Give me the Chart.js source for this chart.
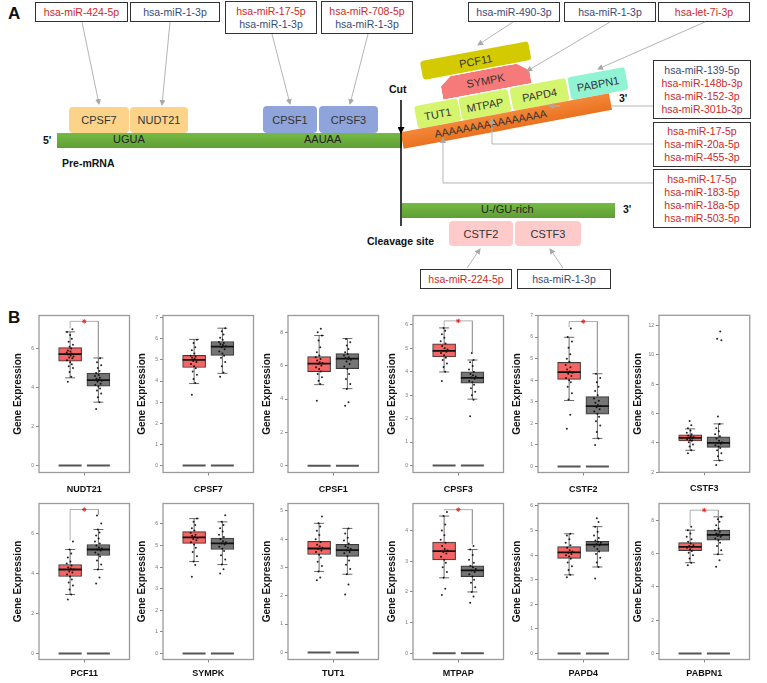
<!DOCTYPE html>
<html lang="en">
<head>
<meta charset="UTF-8" />
<title>Polyadenylation factors and miRNAs</title>
<script src="https://cdn.jsdelivr.net/npm/chart.js"></script>
<style>
  body { margin: 0; background: #fff; }
  #fig { position: relative; width: 767px; height: 683px; overflow: hidden; font-family: 'Liberation Sans', Arial, sans-serif; }
  .lbl { position: absolute; font-weight: bold; font-size: 17px; color: #111; }
  .mi { position: absolute; box-sizing: border-box; border: 1.5px solid #333; background: #fff;
        display: flex; flex-direction: column; justify-content: center; align-items: center;
        font-size: 10.5px; line-height: 13px; white-space: nowrap; }
  .r { color: #cc2a2a; }
  .b { color: #3a4a7a; }
  .pr { position: absolute; box-sizing: border-box; display: flex; justify-content: center; align-items: center;
        font-size: 11px; color: #333; border-radius: 4px; white-space: nowrap; }
  .t { position: absolute; font-size: 11px; color: #222; white-space: nowrap; }
  .bt { position: absolute; font-size: 10.5px; font-weight: bold; color: #111; white-space: nowrap; }
  .bar { position: absolute; background: linear-gradient(#76ba45, #5e9f34); }
  #tail { position: absolute; left: 402px; top: 140px; width: 0; height: 0; transform: rotate(-10.6deg); transform-origin: 0 0; }
  #tail div { position: absolute; }
  canvas { position: absolute; }
  svg { position: absolute; left: 0; top: 0; }
</style>
</head>
<body>
<div id="fig">
  <div class="lbl" style="left:8px;top:4px">A</div>
  <div class="lbl" style="left:8px;top:308px">B</div>

  <!-- miRNA boxes, top row -->
  <div class="mi" style="left:35px;top:2px;width:93px;height:20px"><span class="r">hsa-miR-424-5p</span></div>
  <div class="mi" style="left:130px;top:2px;width:90px;height:20px"><span class="b">hsa-miR-1-3p</span></div>
  <div class="mi" style="left:225px;top:1px;width:92px;height:33px"><span class="r">hsa-miR-17-5p</span><span class="b">hsa-miR-1-3p</span></div>
  <div class="mi" style="left:321px;top:1px;width:92px;height:33px"><span class="r">hsa-miR-708-5p</span><span class="b">hsa-miR-1-3p</span></div>
  <div class="mi" style="left:468px;top:2px;width:92px;height:20px"><span class="b">hsa-miR-490-3p</span></div>
  <div class="mi" style="left:564px;top:2px;width:92px;height:20px"><span class="b">hsa-miR-1-3p</span></div>
  <div class="mi" style="left:658px;top:2px;width:92px;height:20px"><span class="r">hsa-let-7i-3p</span></div>
  <!-- miRNA boxes, right side -->
  <div class="mi" style="left:653px;top:60px;width:98px;height:59px"><span class="b">hsa-miR-139-5p</span><span class="r">hsa-miR-148b-3p</span><span class="r">hsa-miR-152-3p</span><span class="r">hsa-miR-301b-3p</span></div>
  <div class="mi" style="left:653px;top:122px;width:98px;height:45px"><span class="r">hsa-miR-17-5p</span><span class="r">hsa-miR-20a-5p</span><span class="r">hsa-miR-455-3p</span></div>
  <div class="mi" style="left:653px;top:169px;width:98px;height:59px"><span class="r">hsa-miR-17-5p</span><span class="r">hsa-miR-183-5p</span><span class="r">hsa-miR-18a-5p</span><span class="r">hsa-miR-503-5p</span></div>
  <!-- miRNA boxes, bottom -->
  <div class="mi" style="left:420px;top:269px;width:92px;height:20px"><span class="r">hsa-miR-224-5p</span></div>
  <div class="mi" style="left:517px;top:269px;width:94px;height:20px"><span class="b">hsa-miR-1-3p</span></div>

  <!-- pre-mRNA -->
  <div class="bar" style="left:57px;top:133px;width:345px;height:15px"></div>
  <div class="t" style="left:113px;top:133px">UGUA</div>
  <div class="t" style="left:304px;top:133px">AAUAA</div>
  <div class="bt" style="left:43px;top:134px">5'</div>
  <div class="bt" style="left:62px;top:157px">Pre-mRNA</div>

  <div class="pr" style="left:69px;top:107px;width:60px;height:26px;background:#fdd38a">CPSF7</div>
  <div class="pr" style="left:130px;top:107px;width:58px;height:26px;background:#fdd38a">NUDT21</div>
  <div class="pr" style="left:263px;top:106px;width:54px;height:27px;background:#8fa4da">CPSF1</div>
  <div class="pr" style="left:319px;top:106px;width:59px;height:27px;background:#8fa4da">CPSF3</div>

  <!-- poly(A) tail and its proteins -->
  <div id="tail">
    <div style="left:32px;top:-74px;width:110px;height:19px;background:#d3ca02;border-radius:3px;display:flex;justify-content:center;align-items:center;font-size:11px;color:#333">PCF11</div>
    <div style="left:48px;top:-54px;width:90px;height:22px;background:#f77a7a;clip-path:polygon(13% 0,87% 0,100% 40%,100% 100%,0 100%,0 40%);display:flex;justify-content:center;align-items:center;font-size:11px;color:#333">SYMPK</div>
    <div style="left:18px;top:-31px;width:44px;height:23px;background:#d6f56f;border-radius:3px;display:flex;justify-content:center;align-items:center;font-size:11px;color:#333">TUT1</div>
    <div style="left:63px;top:-31px;width:50px;height:23px;background:#d6f56f;border-radius:3px;display:flex;justify-content:center;align-items:center;font-size:11px;color:#333">MTPAP</div>
    <div style="left:115px;top:-31px;width:57px;height:23px;background:#d6f56f;border-radius:3px;display:flex;justify-content:center;align-items:center;font-size:11px;color:#333">PAPD4</div>
    <div style="left:174px;top:-31px;width:58px;height:23px;background:#90f4d4;border-radius:3px;display:flex;justify-content:center;align-items:center;font-size:11px;color:#333">PABPN1</div>
    <div style="left:0px;top:-8.5px;width:212px;height:17px;background:linear-gradient(#f4873a,#e9721f)"></div>
    <div style="left:30px;top:-7px;width:120px;text-align:center;font-size:10.7px;color:#333;line-height:14px">AAAAAAAAAAAAAAAA</div>
  </div>
  <div class="bt" style="left:619px;top:92px">3'</div>
  <div class="bt" style="left:389px;top:83px">Cut</div>

  <!-- downstream -->
  <div class="bar" style="left:402px;top:203px;width:213px;height:15px"></div>
  <div class="t" style="left:481px;top:203px">U-/GU-rich</div>
  <div class="bt" style="left:623px;top:203px">3'</div>
  <div class="bt" style="left:367px;top:235px">Cleavage site</div>
  <div class="pr" style="left:449px;top:221px;width:64px;height:25px;background:#ffcaca">CSTF2</div>
  <div class="pr" style="left:515px;top:221px;width:66px;height:25px;background:#ffcaca">CSTF3</div>

  <svg width="767" height="300">
    <defs>
      <marker id="ah" markerWidth="6" markerHeight="6" refX="5" refY="3" orient="auto" markerUnits="userSpaceOnUse">
        <path d="M0,0 L6,3 L0,6 z" fill="#a8a8a8"/>
      </marker>
      <marker id="bk" markerWidth="7" markerHeight="7" refX="6" refY="3.5" orient="auto" markerUnits="userSpaceOnUse">
        <path d="M0,0 L7,3.5 L0,7 z" fill="#000"/>
      </marker>
    </defs>
    <g stroke="#b5b5b5" stroke-width="1" fill="none">
      <line x1="82" y1="22" x2="99" y2="104" marker-end="url(#ah)"/>
      <line x1="170" y1="22" x2="162" y2="105" marker-end="url(#ah)"/>
      <line x1="272" y1="34" x2="290" y2="104" marker-end="url(#ah)"/>
      <line x1="368" y1="34" x2="350" y2="104" marker-end="url(#ah)"/>
      <line x1="513" y1="22" x2="478" y2="45" marker-end="url(#ah)"/>
      <line x1="610" y1="22" x2="527" y2="71" marker-end="url(#ah)"/>
      <line x1="705" y1="22" x2="598" y2="69" marker-end="url(#ah)"/>
      <line x1="467" y1="268" x2="480" y2="249" marker-end="url(#ah)"/>
      <line x1="563" y1="268" x2="550" y2="249" marker-end="url(#ah)"/>
      <line x1="653" y1="106" x2="612" y2="106"/>
      <line x1="560" y1="106" x2="549" y2="106" marker-end="url(#ah)"/>
      <polyline points="653,144 492,144 492,119" marker-end="url(#ah)"/>
      <polyline points="653,183 443,183 443,138" marker-end="url(#ah)"/>
    </g>
    <line x1="401" y1="100" x2="401" y2="133" stroke="#000" stroke-width="1.5" marker-end="url(#bk)"/>
    <line x1="401" y1="131" x2="401" y2="226" stroke="#000" stroke-width="1.5"/>
  </svg>
</div>

<script>
  // genes in panel order (two rows of six)
  const genes = ['NUDT21', 'CPSF7', 'CPSF1', 'CPSF3', 'CSTF2', 'CSTF3',
                 'PCF11', 'SYMPK', 'TUT1', 'MTPAP', 'PAPD4', 'PABPN1'];

  // box summaries: [lower whisker, q1, median, q3, upper whisker]
  const tumorBox = [
    [4.5, 5.36, 5.72, 6.05, 6.86], [3.88, 4.64, 5.0, 5.21, 5.97], [4.86, 5.64, 6.12, 6.54, 7.8],
    [3.99, 4.63, 4.89, 5.19, 5.87], [3.06, 4.04, 4.37, 4.83, 5.99], [3.5, 4.14, 4.34, 4.55, 4.96],
    [2.95, 3.85, 4.2, 4.45, 5.2], [4.26, 5.1, 5.38, 5.65, 6.25], [2.86, 3.46, 3.67, 3.92, 4.56],
    [2.46, 3.04, 3.33, 3.62, 4.47], [3.2, 3.87, 4.11, 4.35, 4.87], [5.45, 6.17, 6.4, 6.65, 7.4]
  ];
  const normalBox = [
    [3.25, 4.07, 4.38, 4.74, 5.52], [4.36, 5.21, 5.63, 5.87, 6.5], [4.62, 5.82, 6.42, 6.72, 7.62],
    [2.83, 3.51, 3.74, 4.0, 4.5], [1.3, 2.43, 2.8, 3.24, 4.3], [2.8, 3.7, 4.0, 4.41, 5.3],
    [4.2, 4.9, 5.2, 5.45, 6.2], [4.12, 4.82, 5.1, 5.35, 6.1], [2.76, 3.39, 3.61, 3.82, 4.38],
    [2.0, 2.5, 2.7, 2.85, 3.38], [3.52, 4.15, 4.43, 4.56, 5.16], [5.95, 6.8, 7.12, 7.4, 8.2]
  ];

  // individual samples (read approximately from the jitter clouds)
  const tumorPts = [
    [4.3, 4.55, 4.8, 5.0, 5.1, 5.2, 5.3, 5.4, 5.5, 5.55, 5.6, 5.65, 5.7, 5.75, 5.8, 5.85, 5.9, 6.0, 6.1, 6.2, 6.35, 6.5, 6.7, 6.85, 7.0],
    [3.35, 3.9, 4.1, 4.3, 4.45, 4.6, 4.7, 4.8, 4.9, 4.95, 5.0, 5.05, 5.1, 5.15, 5.2, 5.3, 5.45, 5.6, 5.8, 5.95],
    [3.9, 4.9, 5.1, 5.3, 5.5, 5.65, 5.8, 5.9, 6.0, 6.1, 6.15, 6.2, 6.3, 6.4, 6.5, 6.6, 6.8, 7.1, 7.5, 7.8, 8.0, 8.2],
    [3.6, 4.0, 4.2, 4.35, 4.5, 4.6, 4.7, 4.8, 4.85, 4.9, 4.95, 5.0, 5.1, 5.2, 5.3, 5.45, 5.6, 5.75, 5.87],
    [1.75, 2.4, 3.1, 3.4, 3.7, 3.9, 4.0, 4.1, 4.2, 4.3, 4.35, 4.4, 4.5, 4.6, 4.7, 4.85, 5.0, 5.2, 5.5, 5.8, 6.0, 6.4],
    [3.3, 3.5, 3.75, 3.9, 4.05, 4.15, 4.2, 4.25, 4.3, 4.35, 4.4, 4.45, 4.5, 4.6, 4.7, 4.85, 5.0, 5.2, 5.5],
    [2.7, 2.95, 3.2, 3.4, 3.55, 3.7, 3.85, 3.95, 4.05, 4.1, 4.2, 4.25, 4.3, 4.4, 4.5, 4.6, 4.8, 5.0, 5.2, 5.6],
    [3.55, 4.1, 4.26, 4.5, 4.7, 4.9, 5.05, 5.15, 5.25, 5.3, 5.35, 5.4, 5.45, 5.5, 5.6, 5.7, 5.8, 5.95, 6.1, 6.25],
    [2.55, 2.65, 2.86, 3.05, 3.2, 3.35, 3.45, 3.55, 3.6, 3.65, 3.7, 3.75, 3.8, 3.9, 4.0, 4.15, 4.3, 4.45, 4.56, 4.8],
    [1.9, 2.1, 2.46, 2.65, 2.8, 2.95, 3.05, 3.15, 3.25, 3.3, 3.35, 3.4, 3.5, 3.6, 3.7, 3.85, 4.0, 4.2, 4.47, 4.6],
    [3.1, 3.2, 3.4, 3.55, 3.7, 3.85, 3.95, 4.0, 4.05, 4.1, 4.15, 4.2, 4.3, 4.4, 4.5, 4.65, 4.8, 4.87],
    [5.3, 5.45, 5.7, 5.9, 6.05, 6.15, 6.25, 6.35, 6.4, 6.45, 6.5, 6.6, 6.7, 6.85, 7.0, 7.2, 7.4, 7.6]
  ];
  const normalPts = [
    [2.9, 3.25, 3.5, 3.7, 3.85, 3.95, 4.05, 4.15, 4.2, 4.3, 4.35, 4.4, 4.45, 4.5, 4.6, 4.65, 4.75, 4.85, 5.0, 5.15, 5.3, 5.5],
    [4.2, 4.4, 4.7, 4.9, 5.1, 5.2, 5.3, 5.4, 5.5, 5.6, 5.65, 5.7, 5.75, 5.8, 5.85, 5.95, 6.05, 6.2, 6.35, 6.5],
    [3.6, 3.8, 4.6, 4.9, 5.2, 5.5, 5.8, 5.95, 6.1, 6.25, 6.35, 6.4, 6.45, 6.5, 6.6, 6.7, 6.8, 7.0, 7.2, 7.4, 7.6],
    [2.1, 2.8, 3.0, 3.15, 3.3, 3.45, 3.55, 3.6, 3.7, 3.75, 3.8, 3.85, 3.9, 4.0, 4.1, 4.25, 4.4, 4.5, 4.8],
    [1.0, 1.3, 1.6, 1.9, 2.1, 2.3, 2.45, 2.55, 2.65, 2.75, 2.8, 2.85, 2.95, 3.05, 3.15, 3.3, 3.5, 3.7, 3.9, 4.1, 4.3],
    [2.5, 2.8, 3.1, 3.3, 3.5, 3.65, 3.75, 3.85, 3.95, 4.0, 4.05, 4.15, 4.3, 4.45, 4.6, 4.8, 5.0, 5.3, 5.8, 11.0, 11.1, 11.6],
    [3.5, 3.8, 4.2, 4.45, 4.65, 4.85, 4.95, 5.05, 5.15, 5.2, 5.25, 5.3, 5.4, 5.5, 5.6, 5.75, 5.9, 6.05, 6.2, 6.5, 6.9],
    [3.7, 3.9, 4.12, 4.35, 4.55, 4.75, 4.85, 4.95, 5.05, 5.1, 5.15, 5.2, 5.3, 5.4, 5.5, 5.65, 5.8, 5.95, 6.1, 6.4],
    [2.05, 2.4, 2.76, 2.95, 3.1, 3.25, 3.4, 3.5, 3.55, 3.6, 3.65, 3.7, 3.75, 3.85, 3.95, 4.05, 4.2, 4.38],
    [1.65, 1.85, 2.0, 2.15, 2.3, 2.4, 2.5, 2.58, 2.65, 2.7, 2.75, 2.8, 2.85, 2.95, 3.05, 3.2, 3.38, 3.5],
    [3.05, 3.52, 3.7, 3.9, 4.05, 4.15, 4.25, 4.35, 4.4, 4.45, 4.5, 4.55, 4.6, 4.7, 4.8, 4.95, 5.16, 5.35, 5.5],
    [5.2, 5.6, 5.95, 6.2, 6.45, 6.65, 6.8, 6.9, 7.0, 7.05, 7.1, 7.15, 7.2, 7.3, 7.4, 7.5, 7.7, 7.9, 8.05, 8.2]
  ];

  // y axes
  const yMin  = [-0.36, -0.33, -0.4, -0.3, -0.28, 2.0, -0.3, -0.28, -0.25, -0.2, -0.24, -0.36];
  const yMax  = [7.7, 7.1, 9.0, 6.4, 7.0, 12.7, 7.5, 6.95, 5.26, 4.88, 6.1, 9.0];
  const yStep = [2, 1, 2, 1, 1, 2, 2, 1, 1, 1, 1, 2];
  // height of the significance bracket (null = not significant)
  const sigY  = [7.4, null, null, 6.17, 6.72, null, 7.2, null, null, 4.68, null, 8.6];

  // layout
  const frameLeft = [39, 163, 288, 413, 538, 659];
  const frameTop = [315, 503];
  const frameH = [157, 156];
  const titleShift = [0, -3];
  const frameW = 94;
  const axisW = 27, axisH = 22, padT = 4, padR = 4;
  const jitter = [-0.08, 0.04, -0.02, 0.1, -0.05, 0.06, 0.0, -0.11, 0.08, -0.03, 0.12, 0.02, -0.07, 0.05, -0.12, 0.01];
  const FONT = "'Liberation Sans', Arial, sans-serif";

  const frame = {
    id: 'frame',
    afterDatasetsDraw(chart) {
      const a = chart.chartArea, ctx = chart.ctx;
      ctx.save();
      ctx.strokeStyle = '#9a9a9a';
      ctx.lineWidth = 1.3;
      ctx.strokeRect(a.left, a.top, a.right - a.left, a.bottom - a.top);
      ctx.restore();
    }
  };

  const fig = document.getElementById('fig');

  genes.forEach((gene, i) => {
    const col = i % 6, row = Math.floor(i / 6);
    const L = frameLeft[col], T = frameTop[row], H = frameH[row];
    const cv = document.createElement('canvas');
    let w = axisW + frameW + padR, h = padT + H + axisH;
    cv.width = w; cv.height = h;
    cv.style.width = w + 'px'; cv.style.height = h + 'px';
    fig.appendChild(cv);

    const t = tumorBox[i], n = normalBox[i];
    const datasets = [];

    datasets.push({
      type: 'bar', order: 6,
      data: [{ x: 1, y: [t[1], t[3]] }, { x: 2, y: [n[1], n[3]] }],
      backgroundColor: ['rgba(243,88,88,0.92)', 'rgba(110,110,110,0.95)'],
      borderColor: '#3a3a3a', borderWidth: 1, borderSkipped: false, barThickness: 23, grouped: false
    });
    datasets.push({
      type: 'line', order: 5,
      data: [{ x: 1, y: t[0] }, { x: 1, y: t[1] }, { x: 1, y: null }, { x: 1, y: t[3] }, { x: 1, y: t[4] },
             { x: 2, y: null }, { x: 2, y: n[0] }, { x: 2, y: n[1] }, { x: 2, y: null }, { x: 2, y: n[3] }, { x: 2, y: n[4] }],
      borderColor: '#444', borderWidth: 0.8, pointRadius: 0, spanGaps: false
    });
    datasets.push({
      type: 'scatter', order: 4,
      data: [{ x: 1, y: t[0] }, { x: 1, y: t[4] }, { x: 2, y: n[0] }, { x: 2, y: n[4] }],
      pointStyle: 'line', radius: 5, borderColor: '#444', borderWidth: 0.8
    });
    [[tumorPts[i], 1], [normalPts[i], 2]].forEach(([pts, cx]) => {
      datasets.push({
        type: 'scatter', order: 3,
        data: pts.map((y, k) => ({ x: cx + jitter[k % jitter.length], y })),
        radius: 1, backgroundColor: 'rgba(0,0,0,0.85)', borderWidth: 0
      });
    });
    datasets.push({
      type: 'scatter', order: 1,
      data: [{ x: 1, y: t[2] }, { x: 2, y: n[2] }],
      pointStyle: 'line', radius: 11.5, borderColor: '#111', borderWidth: 1.8
    });
    if (yMin[i] < 0) {
      datasets.push({
        type: 'scatter', order: 1,
        data: [{ x: 1, y: 0 }, { x: 2, y: 0 }],
        pointStyle: 'line', radius: 11.5, borderColor: '#555', borderWidth: 2
      });
    }
    if (sigY[i] !== null) {
      const tTop = Math.max(...tumorPts[i]) + 0.05, nTop = Math.max(...normalPts[i]) + 0.05;
      datasets.push({
        type: 'line', order: 2,
        data: [{ x: 1, y: tTop }, { x: 1, y: sigY[i] }, { x: 2, y: sigY[i] }, { x: 2, y: nTop }],
        borderColor: '#9a9a9a', borderWidth: 0.8, pointRadius: 0
      });
      datasets.push({
        type: 'scatter', order: 1,
        data: [{ x: 1.5, y: sigY[i] }],
        pointStyle: 'star', radius: 2.2, borderColor: '#e02020', borderWidth: 0.9
      });
    }

    const chart = new Chart(cv, {
      type: 'scatter',
      data: { datasets },
      options: {
        responsive: false, animation: false, events: [],
        devicePixelRatio: 1,
        layout: { padding: { left: 0, top: padT, right: padR, bottom: 0 } },
        plugins: { legend: { display: false }, tooltip: { enabled: false } },
        scales: {
          x: {
            type: 'linear', min: -0.1, max: 3.1, offset: false,
            afterBuildTicks: s => { s.ticks = [{ value: 1.5 }]; },
            afterFit: s => { s.height = axisH; },
            ticks: { callback: () => '', font: { size: 1 } },
            grid: { drawOnChartArea: false, tickLength: 3, color: '#888', offset: false },
            border: { display: false },
            title: { display: true, text: gene, color: '#111',
                     padding: { top: titleShift[row], bottom: -titleShift[row] },
                     font: { family: FONT, size: 9, weight: 'bold' } }
          },
          y: {
            type: 'linear', min: yMin[i], max: yMax[i],
            afterFit: s => { s.width = axisW; },
            ticks: { stepSize: yStep[i], includeBounds: false, padding: 2, color: '#777',
                     font: { family: FONT, size: 5 } },
            grid: { drawOnChartArea: false, tickLength: 3, color: '#888' },
            border: { display: false },
            title: { display: true, text: 'Gene Expression', color: '#111', padding: 0,
                     font: { family: FONT, size: 10, weight: 'bold' } }
          }
        }
      },
      plugins: [frame]
    });

    // make the plot area land exactly on the frame
    let a = chart.chartArea;
    const dw = frameW - (a.right - a.left), dh = H - (a.bottom - a.top);
    if (dw !== 0 || dh !== 0) {
      w += dw; h += dh;
      cv.style.width = w + 'px'; cv.style.height = h + 'px';
      chart.resize(w, h);
      a = chart.chartArea;
    }
    cv.style.left = (L - a.left) + 'px';
    cv.style.top = (T - a.top) + 'px';
  });
</script>
</body>
</html>
